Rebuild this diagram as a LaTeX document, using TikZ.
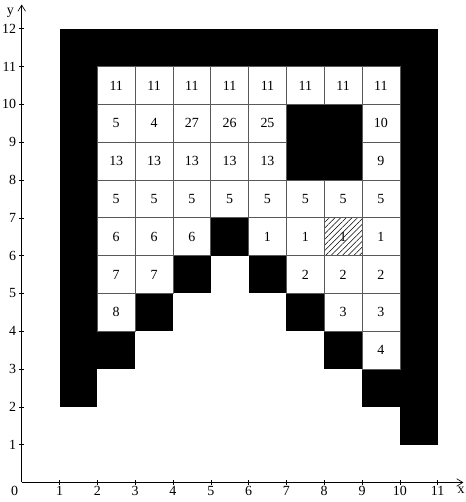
\documentclass[tikz,border=0pt]{standalone}
\usepackage{fontspec}
\setmainfont{Liberation Serif}
\usetikzlibrary{arrows.meta, patterns.meta}

\begin{document}
\begin{tikzpicture}[
    every node/.style={font=\fontsize{10.5}{12}\selectfont},
    cell/.style={rectangle, draw=black!65, line width=0.5pt, minimum size=1cm, inner sep=0pt},
    wall/.style={fill=black},
    axis/.style={-{Straight Barb[length=1.6mm, width=2mm]}, line width=0.5pt},
    ticklabel/.style={inner sep=0pt}
  ]
  \useasboundingbox (-0.574,-0.516) rectangle (11.73,12.76);
  % walls
  \foreach \xa/\ya/\xb/\yb in {1/2/2/12, 1/11/11/12, 10/1/11/12, 7/8/9/10, 5/6/6/7,
      4/5/5/6, 6/5/7/6, 3/4/4/5, 7/4/8/5, 2/3/3/4, 8/3/9/4, 9/2/10/3}
    \fill[wall] (\xa,\ya) rectangle (\xb,\yb);
  % numbered cells
  \foreach \cx/\cy/\val [count=\i] in {
      2.5/10.5/11, 3.5/10.5/11, 4.5/10.5/11, 5.5/10.5/11, 6.5/10.5/11, 7.5/10.5/11, 8.5/10.5/11, 9.5/10.5/11,
      2.5/9.5/5, 3.5/9.5/4, 4.5/9.5/27, 5.5/9.5/26, 6.5/9.5/25, 9.5/9.5/10,
      2.5/8.5/13, 3.5/8.5/13, 4.5/8.5/13, 5.5/8.5/13, 6.5/8.5/13, 9.5/8.5/9,
      2.5/7.5/5, 3.5/7.5/5, 4.5/7.5/5, 5.5/7.5/5, 6.5/7.5/5, 7.5/7.5/5, 8.5/7.5/5, 9.5/7.5/5,
      2.5/6.5/6, 3.5/6.5/6, 4.5/6.5/6, 6.5/6.5/1, 7.5/6.5/1, 9.5/6.5/1,
      2.5/5.5/7, 3.5/5.5/7, 7.5/5.5/2, 8.5/5.5/2, 9.5/5.5/2,
      2.5/4.5/8, 8.5/4.5/3, 9.5/4.5/3,
      9.5/3.5/4}
    \node[cell] (c\i) at (\cx,\cy) {\val};
  \node[cell, pattern={Lines[angle=45, distance=3pt, line width=0.4pt]}] (goal) at (8.5,6.5) {1};
  % axes
  \coordinate (o) at (0,0);
  \coordinate (xend) at (11.68,0);
  \coordinate (yend) at (0,12.64);
  \draw[axis] (o) -- (xend);
  \draw[axis] (o) -- (yend);
  \node[ticklabel] (xlab) at (11.62,-0.2) {x};
  \node[ticklabel] (ylab) at (-0.3,12.42) {y};
  \node[ticklabel] (zero) at (-0.19,-0.22) {0};
  \foreach \k in {1,...,11}
    \draw (\k,-0.06) -- (\k,0.06) node[ticklabel] (xt\k) at (\k,-0.22) {\k};
  \foreach \k in {1,...,12}
    \draw (-0.06,\k) -- (0.06,\k) node[ticklabel, anchor=east] (yt\k) at (-0.14,\k) {\k};
\end{tikzpicture}
\end{document}
